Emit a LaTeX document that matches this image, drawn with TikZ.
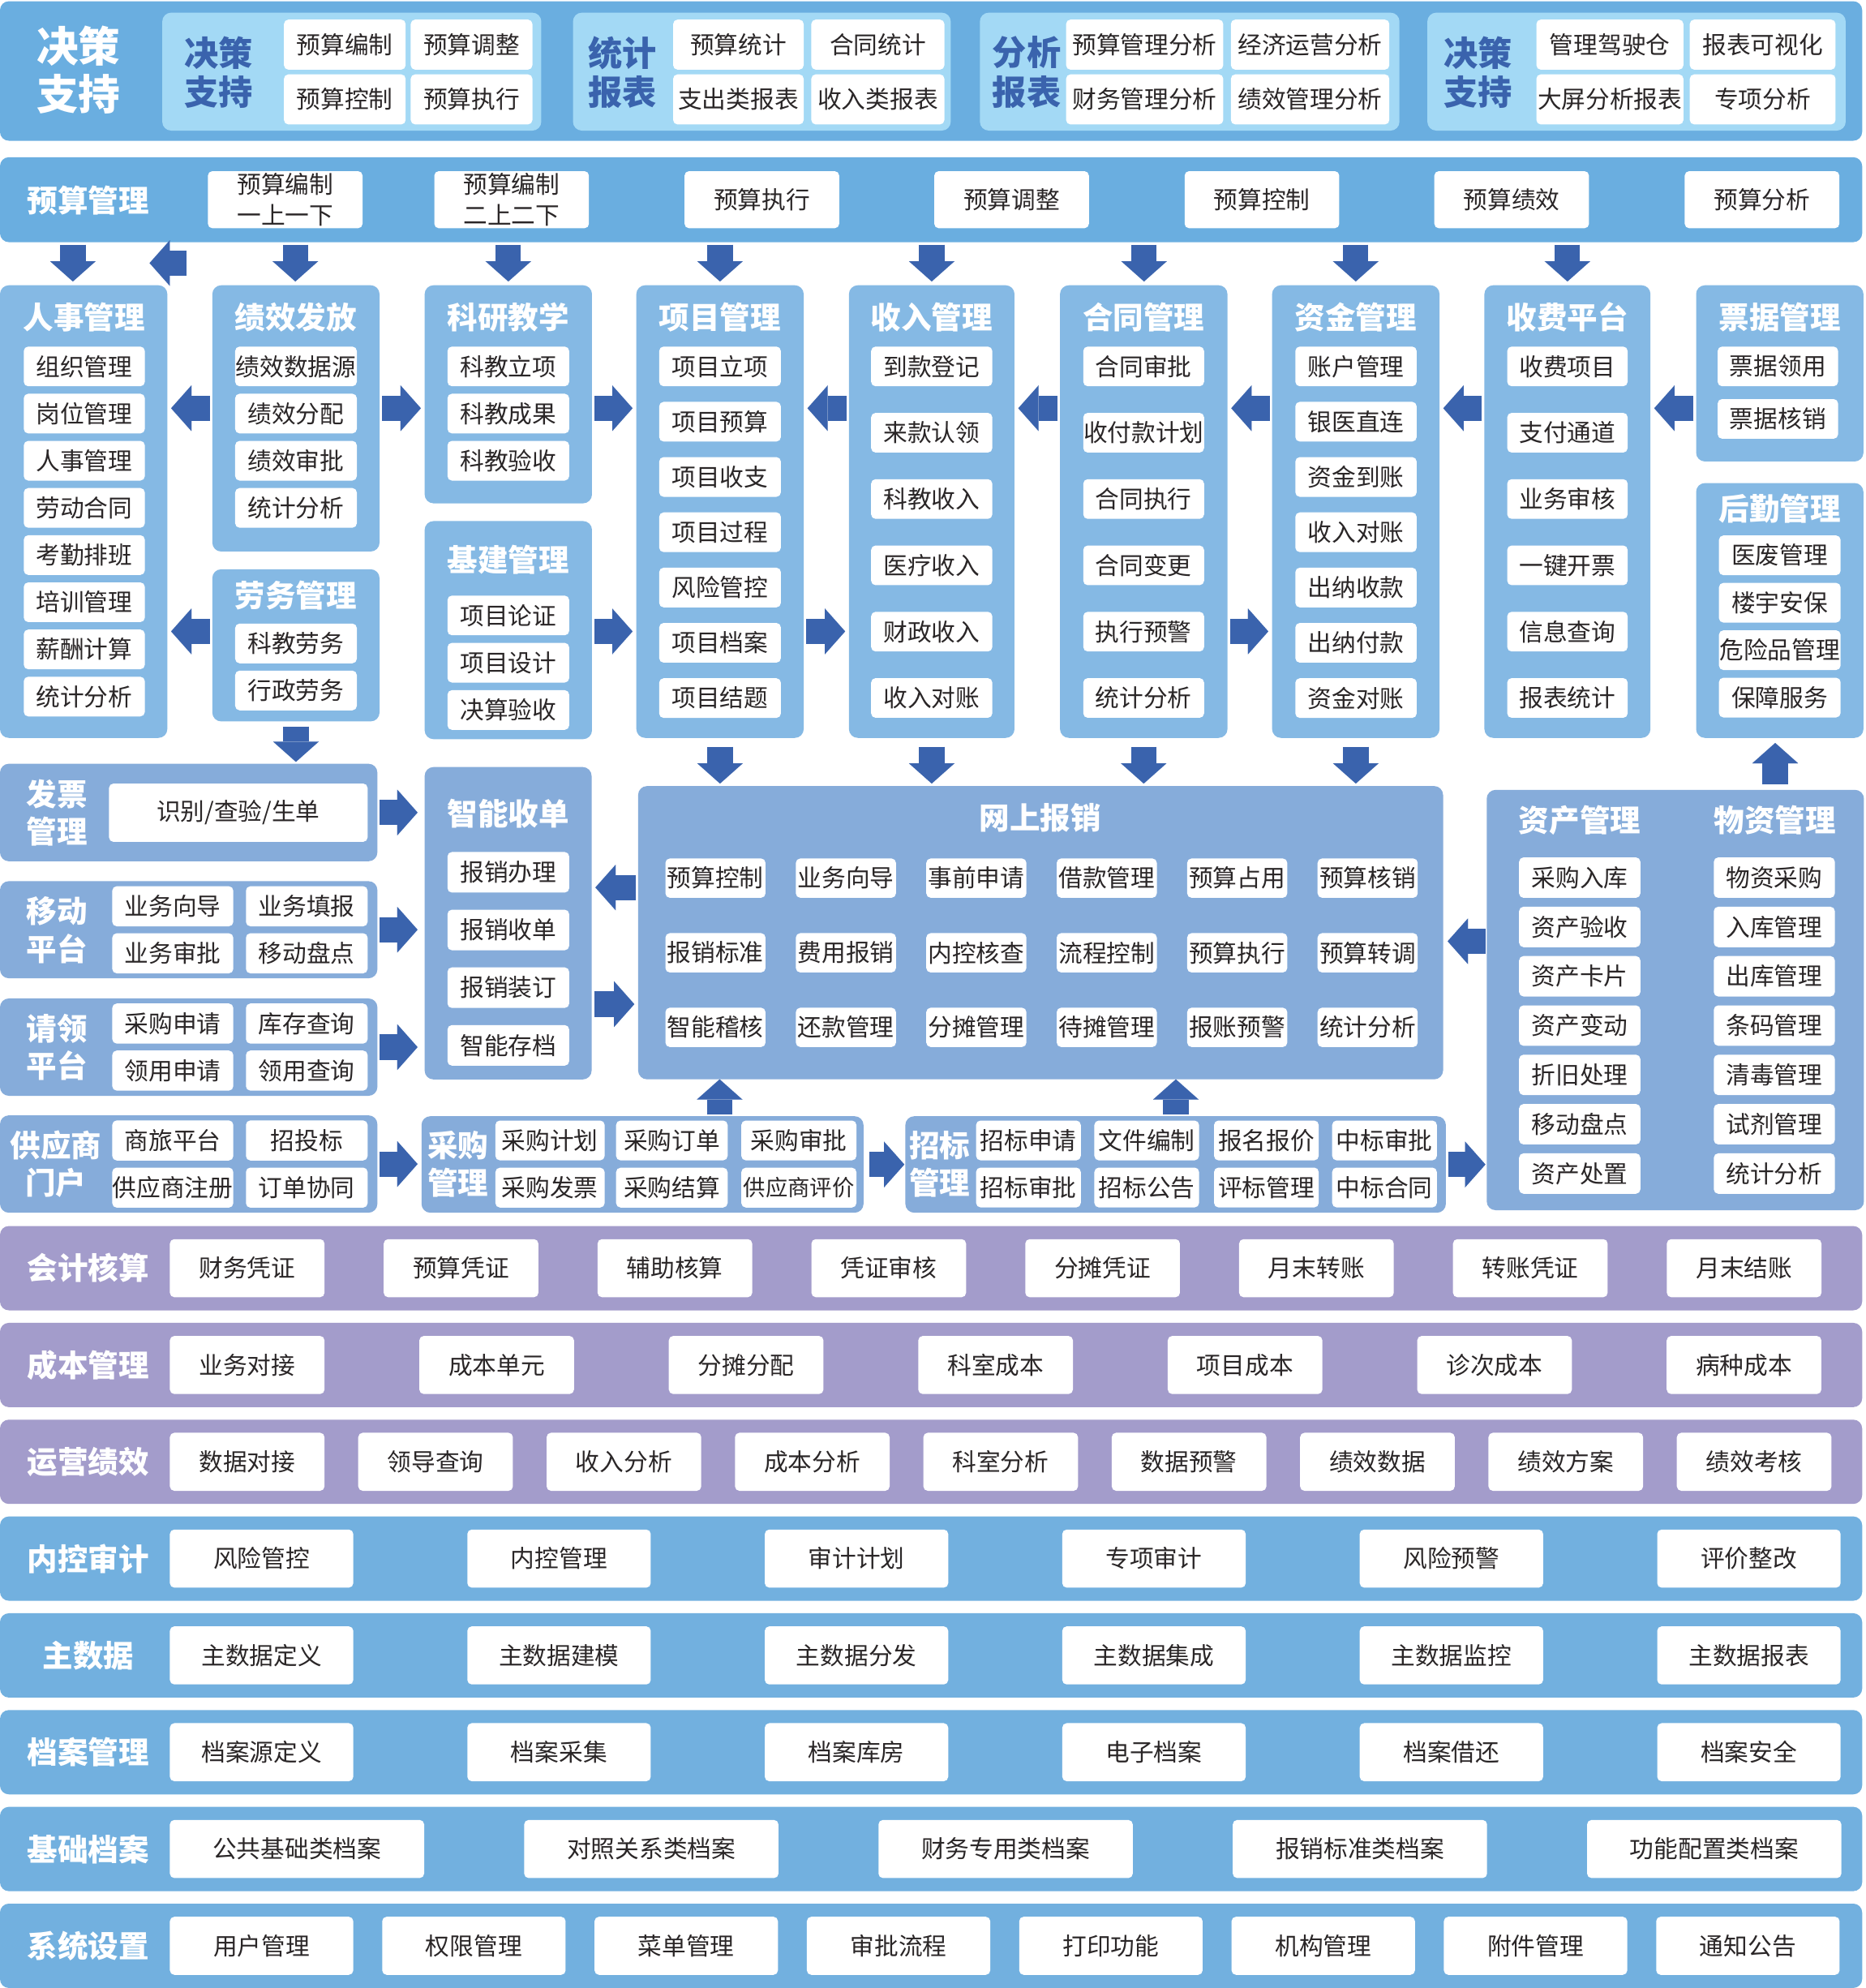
\documentclass[tikz,border=0pt]{standalone}
\usepackage{fontspec}
\setmainfont{Noto Sans CJK SC}
\usetikzlibrary{arrows.meta}
\definecolor{bandblue}{HTML}{6AAEE0}
\definecolor{lightpanel}{HTML}{A3D9F5}
\definecolor{colblue}{HTML}{85B9E4}
\definecolor{lowblue}{HTML}{86ACDA}
\definecolor{purp}{HTML}{A39CCB}
\definecolor{botblue}{HTML}{72B0DF}
\definecolor{arrc}{HTML}{3A63AD}
\definecolor{txt}{HTML}{2A2627}
\tikzset{
 pnl/.style={rounded corners=7pt, inner sep=0pt, outer sep=0pt},
 ibox/.style={fill=white, rounded corners=3.5pt, inner sep=0pt, outer sep=0pt, text=txt, font=\fontsize{19}{24}\selectfont, align=center},
 ttl/.style={text=white, font=\bfseries\fontsize{24}{29.5}\selectfont, inner sep=0pt, align=center},
 dttl/.style={text=arrc, font=\bfseries\fontsize{27}{31}\selectfont, inner sep=0pt, align=center},
 barrow/.style={draw=arrc, line width=20pt, -{Triangle[width=36pt,length=16pt,line width=0.01pt]}, shorten <=2pt, shorten >=3pt},
}
\newcommand\pnl[6]{\node[pnl, fill=#6, minimum width={(#4)-(#2)}, minimum height={(#5)-(#3)}] (#1) at ({((#2)+(#4))/2},{((#3)+(#5))/2}) {};}
\newcommand\ib[6]{\node[ibox, minimum width=#4, minimum height=#5] (#1) at ({#2},{#3}) {#6};}
\newcommand\band[4]{\pnl{#1}{0}{967+#2*76.35}{1469}{967+#2*76.35+66.5}{#4}\node[ttl] (#1l) at (69.7,{967+#2*76.35+33.25}) {#3};}
\begin{document}
\begin{tikzpicture}[x=1pt,y=-1pt]
\useasboundingbox (0,0) rectangle (1472,1568);
\fill[white] (0,0) rectangle (1472,1568);

% ---------- top band ----------
\pnl{top}{0}{1}{1469}{111}{bandblue}
\node[ttl, font=\bfseries\fontsize{33}{38}\selectfont] (topl) at (62,55) {决策\\支持};
\pnl{pa}{128}{10}{427}{103}{lightpanel}
\node[dttl] (pal) at (172.7,57) {决策\\支持};
\ib{pa1}{272}{35.2}{96}{39.5}{预算编制}
\ib{pa2}{372}{35.2}{96}{39.5}{预算调整}
\ib{pa3}{272}{78.4}{96}{39.5}{预算控制}
\ib{pa4}{372}{78.4}{96}{39.5}{预算执行}
\pnl{pb}{452}{10}{750}{103}{lightpanel}
\node[dttl] (pbl) at (491,57) {统计\\报表};
\ib{pb1}{582.5}{35.2}{103}{39.5}{预算统计}
\ib{pb2}{692.5}{35.2}{105}{39.5}{合同统计}
\ib{pb3}{582.5}{78.4}{103}{39.5}{支出类报表}
\ib{pb4}{692.5}{78.4}{105}{39.5}{收入类报表}
\pnl{pc}{773}{10}{1104}{103}{lightpanel}
\node[dttl] (pcl) at (810,57) {分析\\报表};
\ib{pc1}{903}{35.2}{124}{39.5}{预算管理分析}
\ib{pc2}{1033.5}{35.2}{125}{39.5}{经济运营分析}
\ib{pc3}{903}{78.4}{124}{39.5}{财务管理分析}
\ib{pc4}{1033.5}{78.4}{125}{39.5}{绩效管理分析}
\pnl{pd}{1126}{10}{1456}{103}{lightpanel}
\node[dttl] (pdl) at (1166,57) {决策\\支持};
\ib{pd1}{1270}{35.2}{116}{39.5}{管理驾驶仓}
\ib{pd2}{1390.5}{35.2}{115}{39.5}{报表可视化}
\ib{pd3}{1270}{78.4}{116}{39.5}{大屏分析报表}
\ib{pd4}{1390.5}{78.4}{115}{39.5}{专项分析}

% ---------- budget band ----------
\pnl{ys}{0}{124}{1469}{191}{bandblue}
\node[ttl] (ysl) at (69.6,158) {预算管理};
\ib{ys1}{225}{157.5}{122}{45}{预算编制\\一上一下}
\ib{ys2}{403.6}{157.5}{122}{45}{预算编制\\二上二下}
\foreach \x/\t [count=\i from 3] in {601/预算执行, 798/预算调整, 995.5/预算控制, 1192.5/预算绩效, 1390/预算分析} {\ib{ys\i}{\x}{157.5}{122}{45}{\t}}

% ---------- columns ----------
\pnl{rs}{0}{225}{132}{582}{colblue}
\node[ttl] (rst) at (66.5,250) {人事管理};
\foreach \t [count=\i from 0] in {组织管理,岗位管理,人事管理,劳动合同,考勤排班,培训管理,薪酬计算,统计分析} {\ib{rs\i}{66.5}{289+\i*37.2}{95.5}{31.3}{\t}}

\pnl{jx}{167.5}{225}{299.4}{435}{colblue}
\node[ttl] (jxt) at (233.4,250) {绩效发放};
\foreach \t [count=\i from 0] in {绩效数据源,绩效分配,绩效审批,统计分析} {\ib{jx\i}{233.5}{289+\i*37.2}{96}{31.3}{\t}}

\pnl{lw}{167.5}{449}{299.4}{569}{colblue}
\node[ttl] (lwt) at (233.4,469.6) {劳务管理};
\ib{lw0}{233.5}{507.5}{96}{31.3}{科教劳务}
\ib{lw1}{233.5}{544.6}{96}{31.3}{行政劳务}

\pnl{ky}{335}{225}{467}{397}{colblue}
\node[ttl] (kyt) at (401,250) {科研教学};
\foreach \t [count=\i from 0] in {科教立项,科教成果,科教验收} {\ib{ky\i}{401}{289+\i*37.2}{96}{31.3}{\t}}

\pnl{jj}{335}{411}{467}{583}{colblue}
\node[ttl] (jjt) at (401,441.4) {基建管理};
\foreach \t [count=\i from 0] in {项目论证,项目设计,决算验收} {\ib{jj\i}{401}{485.4+\i*37.3}{96}{31.3}{\t}}

\pnl{xm}{502}{225}{634}{582}{colblue}
\node[ttl] (xmt) at (568,250) {项目管理};
\foreach \t [count=\i from 0] in {项目立项,项目预算,项目收支,项目过程,风险管控,项目档案,项目结题} {\ib{xm\i}{568}{289+\i*43.6}{96}{31.3}{\t}}

\pnl{sr}{669.7}{225}{800.3}{582}{colblue}
\node[ttl] (srt) at (735,250) {收入管理};
\foreach \t [count=\i from 0] in {到款登记,来款认领,科教收入,医疗收入,财政收入,收入对账} {\ib{sr\i}{735}{289+\i*52.3}{95.6}{31.3}{\t}}

\pnl{ht}{836.2}{225}{968.3}{582}{colblue}
\node[ttl] (htt) at (902.3,250) {合同管理};
\foreach \t [count=\i from 0] in {合同审批,收付款计划,合同执行,合同变更,执行预警,统计分析} {\ib{ht\i}{902.2}{289+\i*52.3}{95.3}{31.3}{\t}}

\pnl{zj}{1003.5}{225}{1135.6}{582}{colblue}
\node[ttl] (zjt) at (1069.5,250) {资金管理};
\foreach \t [count=\i from 0] in {账户管理,银医直连,资金到账,收入对账,出纳收款,出纳付款,资金对账} {\ib{zj\i}{1069.7}{289+\i*43.6}{95.7}{31.3}{\t}}

\pnl{sf}{1171}{225}{1302}{582}{colblue}
\node[ttl] (sft) at (1236.5,250) {收费平台};
\foreach \t [count=\i from 0] in {收费项目,支付通道,业务审核,一键开票,信息查询,报表统计} {\ib{sf\i}{1236.5}{289+\i*52.3}{95}{31.3}{\t}}

\pnl{pj}{1338}{225}{1470}{364}{colblue}
\node[ttl] (pjt) at (1404,250) {票据管理};
\ib{pj0}{1402.5}{289}{95}{31.3}{票据领用}
\ib{pj1}{1402.5}{330.4}{95}{31.3}{票据核销}

\pnl{hq}{1338}{381}{1470}{582}{colblue}
\node[ttl] (hqt) at (1404,401) {后勤管理};
\foreach \t [count=\i from 0] in {医废管理,楼宇安保,危险品管理,保障服务} {\ib{hq\i}{1404}{438+\i*37.4}{96}{31.3}{\t}}

% ---------- arrows band -> columns ----------
\foreach \n/\x in {rs/57.5, jx/233, ky/401, xm/568, sr/735, ht/902.5, zj/1069.5, sf/1236.5} {
  \coordinate (c\n) at (\x,0);
  \draw[barrow] (ys.south -| c\n) -- (\n.north -| c\n);
}
\coordinate (la1) at (147,207.5);
\coordinate (la2) at (118,207.5);
\draw[barrow, shorten <=0pt, shorten >=0pt] (la1) -- (la2);

% ---------- arrows between columns ----------
\coordinate (hya) at (0,322);
\coordinate (hyb) at (0,498);
\draw[barrow] (jx.west |- hya) -- (rs.east |- hya);
\draw[barrow] (jx.east |- hya) -- (ky.west |- hya);
\draw[barrow] (ky.east |- hya) -- (xm.west |- hya);
\draw[barrow] (sr.west |- hya) -- (xm.east |- hya);
\draw[barrow] (ht.west |- hya) -- (sr.east |- hya);
\draw[barrow] (zj.west |- hya) -- (ht.east |- hya);
\draw[barrow] (sf.west |- hya) -- (zj.east |- hya);
\draw[barrow] (pj.west |- hya) -- (sf.east |- hya);
\draw[barrow] (lw.west |- hyb) -- (rs.east |- hyb);
\draw[barrow] (jj.east |- hyb) -- (xm.west |- hyb);
\draw[barrow] (xm.east |- hyb) -- (sr.west |- hyb);
\draw[barrow] (ht.east |- hyb) -- (zj.west |- hyb);

% ---------- row 4 ----------
\pnl{fp}{0}{602.4}{297.7}{679.3}{lowblue}
\node[ttl] (fpl) at (45,641.2) {发票\\管理};
\ib{fp0}{188}{641}{204}{46}{识别/查验/生单}

\pnl{yd}{0}{695}{297.7}{771.6}{lowblue}
\node[ttl] (ydl) at (45,733.6) {移动\\平台};
\ib{yd0}{136.3}{714.8}{95.5}{31.6}{业务向导}
\ib{yd1}{242}{714.8}{96}{31.6}{业务填报}
\ib{yd2}{136.3}{751.9}{95.5}{31.6}{业务审批}
\ib{yd3}{242}{751.9}{96}{31.6}{移动盘点}

\pnl{ql}{0}{787.5}{297.7}{864.3}{lowblue}
\node[ttl] (qll) at (45,826) {请领\\平台};
\ib{ql0}{136.3}{807.3}{95.5}{31.6}{采购申请}
\ib{ql1}{242}{807.3}{96}{31.6}{库存查询}
\ib{ql2}{136.3}{844.4}{95.5}{31.6}{领用申请}
\ib{ql3}{242}{844.4}{96}{31.6}{领用查询}

\pnl{gy}{0}{879.7}{297.7}{956.5}{lowblue}
\node[ttl] (gyl) at (44,918) {供应商\\门户};
\ib{gy0}{136.3}{899.5}{95.5}{31.6}{商旅平台}
\ib{gy1}{242}{899.5}{96}{31.6}{招投标}
\ib{gy2}{136.3}{936.7}{95.5}{31.6}{供应商注册}
\ib{gy3}{242}{936.7}{96}{31.6}{订单协同}

\pnl{zn}{335}{605}{466.7}{851.4}{lowblue}
\node[ttl] (znt) at (401,641.8) {智能收单};
\foreach \t [count=\i from 0] in {报销办理,报销收单,报销装订,智能存档} {\ib{zn\i}{401}{688+\i*45.5}{96}{32}{\t}}

\pnl{wb}{503.4}{620}{1138.4}{851.3}{lowblue}
\node[ttl] (wbt) at (820.5,644.8) {网上报销};
\foreach \t [count=\i from 0] in {预算控制,业务向导,事前申请,借款管理,预算占用,预算核销} {\ib{wba\i}{564.4+\i*102.9}{692.6}{79}{31}{\t}}
\foreach \t [count=\i from 0] in {报销标准,费用报销,内控核查,流程控制,预算执行,预算转调} {\ib{wbb\i}{564.4+\i*102.9}{751.5}{79}{31}{\t}}
\foreach \t [count=\i from 0] in {智能稽核,还款管理,分摊管理,待摊管理,报账预警,统计分析} {\ib{wbc\i}{564.4+\i*102.9}{810.3}{79}{31}{\t}}

\pnl{cg}{332.5}{880.4}{681.2}{956.5}{lowblue}
\node[ttl] (cgl) at (361.3,918.2) {采购\\管理};
\begin{scope}[every node/.append style={font=\fontsize{18.5}{22}\selectfont}]
\ib{cg0}{433.9}{899.5}{86.2}{31.4}{采购计划}
\ib{cg1}{530}{899.5}{88}{31.4}{采购订单}
\ib{cg2}{630.2}{899.5}{90.8}{31.4}{采购审批}
\ib{cg3}{433.9}{936.7}{86.2}{31.4}{采购发票}
\ib{cg4}{530}{936.7}{88}{31.4}{采购结算}
\node[ibox, minimum width=90.8, minimum height=31.4, font=\fontsize{17.5}{21}\selectfont] (cg5) at (630.2,936.7) {供应商评价};
\end{scope}

\pnl{zb}{714.2}{880.4}{1140.6}{956.5}{lowblue}
\node[ttl] (zbl) at (741.2,918.2) {招标\\管理};
\begin{scope}[every node/.append style={font=\fontsize{18.5}{22}\selectfont}]
\foreach \x/\t [count=\i from 0] in {811.3/招标申请,904.6/文件编制,999/报名报价,1092.2/中标审批} {\ib{zba\i}{\x}{899.5}{82.6}{31.4}{\t}}
\foreach \x/\t [count=\i from 0] in {811.3/招标审批,904.6/招标公告,999/评标管理,1092.2/中标合同} {\ib{zbb\i}{\x}{936.6}{82.6}{31.4}{\t}}
\end{scope}

\pnl{zw}{1172.8}{623}{1470.4}{954.5}{lowblue}
\node[ttl] (zwt1) at (1246.2,647) {资产管理};
\node[ttl] (zwt2) at (1400.3,647) {物资管理};
\foreach \t [count=\i from 0] in {采购入库,资产验收,资产卡片,资产变动,折旧处理,移动盘点,资产处置} {\ib{zwa\i}{1246.2}{692.2+\i*38.9}{95.7}{31.9}{\t}}
\foreach \t [count=\i from 0] in {物资采购,入库管理,出库管理,条码管理,清毒管理,试剂管理,统计分析} {\ib{zwb\i}{1399.7}{692.2+\i*38.9}{95.5}{31.9}{\t}}

% ---------- arrows row 3 -> row 4 ----------
\draw[barrow, shorten <=4pt, shorten >=1.5pt] (lw.south) -- (lw.south |- fp.north);
\foreach \n in {xm,sr,ht,zj} {\draw[barrow, shorten <=7pt, shorten >=2pt] (\n.south) -- (\n.south |- wb.north);}
\coordinate (cu) at (1400.4,0);
\draw[barrow, shorten <=4.4pt, shorten >=4pt] (zw.north -| cu) -- (hq.south -| cu);

% ---------- arrows row 4 ----------
\draw[barrow, shorten <=1.6pt, shorten >=5.6pt] (fp.east) -- (fp.east -| zn.west);
\draw[barrow, shorten <=1.6pt, shorten >=5.6pt] (yd.east) -- (yd.east -| zn.west);
\draw[barrow, shorten <=1.6pt, shorten >=5.6pt] (ql.east) -- (ql.east -| zn.west);
\draw[barrow, shorten <=1.6pt, shorten >=3.1pt] (gy.east) -- (gy.east -| cg.west);
\coordinate (hyc) at (0,700);
\coordinate (hyd) at (0,792);
\coordinate (hye) at (0,742.4);
\draw[barrow] (wb.west |- hyc) -- (zn.east |- hyc);
\draw[barrow] (zn.east |- hyd) -- (wb.west |- hyd);
\draw[barrow, shorten <=4.3pt, shorten >=0.8pt] (cg.east) -- (cg.east -| zb.west);
\draw[barrow, shorten <=2.2pt, shorten >=1pt] (zb.east) -- (zb.east -| zw.west);
\draw[barrow, shorten <=1pt, shorten >=3.6pt] (zw.west |- hye) -- (wb.east |- hye);
\coordinate (cu1) at (567.7,0);
\coordinate (cu2) at (927.6,0);
\draw[barrow, shorten <=1.4pt, shorten >=0pt] (cg.north -| cu1) -- (wb.south -| cu1);
\draw[barrow, shorten <=1.4pt, shorten >=0pt] (zb.north -| cu2) -- (wb.south -| cu2);

% ---------- bottom bands ----------
\band{kj}{0}{会计核算}{purp}
\foreach \t [count=\i from 0] in {财务凭证,预算凭证,辅助核算,凭证审核,分摊凭证,月末转账,转账凭证,月末结账} {\ib{kj\i}{195+\i*168.7}{1000.25}{122}{45.8}{\t}}
\band{cb}{1}{成本管理}{purp}
\foreach \t [count=\i from 0] in {业务对接,成本单元,分摊分配,科室成本,项目成本,诊次成本,病种成本} {\ib{cb\i}{195+\i*196.8}{1076.6}{122}{45.8}{\t}}
\band{yy}{2}{运营绩效}{purp}
\foreach \t [count=\i from 0] in {数据对接,领导查询,收入分析,成本分析,科室分析,数据预警,绩效数据,绩效方案,绩效考核} {\ib{yy\i}{195+\i*148.6}{1152.95}{122}{45.8}{\t}}
\band{nk}{3}{内控审计}{botblue}
\foreach \t [count=\i from 0] in {风险管控,内控管理,审计计划,专项审计,风险预警,评价整改} {\ib{nk\i}{206.35+\i*234.66}{1229.3}{144.7}{45.8}{\t}}
\band{zs}{4}{主数据}{botblue}
\foreach \t [count=\i from 0] in {主数据定义,主数据建模,主数据分发,主数据集成,主数据监控,主数据报表} {\ib{zs\i}{206.35+\i*234.66}{1305.65}{144.7}{45.8}{\t}}
\band{da}{5}{档案管理}{botblue}
\foreach \t [count=\i from 0] in {档案源定义,档案采集,档案库房,电子档案,档案借还,档案安全} {\ib{da\i}{206.35+\i*234.66}{1382}{144.7}{45.8}{\t}}
\band{jc}{6}{基础档案}{botblue}
\foreach \t [count=\i from 0] in {公共基础类档案,对照关系类档案,财务专用类档案,报销标准类档案,功能配置类档案} {\ib{jc\i}{234.3+\i*279.5}{1458.35}{200.6}{45.8}{\t}}
\band{xt}{7}{系统设置}{botblue}
\foreach \t [count=\i from 0] in {用户管理,权限管理,菜单管理,审批流程,打印功能,机构管理,附件管理,通知公告} {\ib{xt\i}{206.35+\i*167.5}{1534.7}{144.7}{45.8}{\t}}
\end{tikzpicture}
\end{document}
